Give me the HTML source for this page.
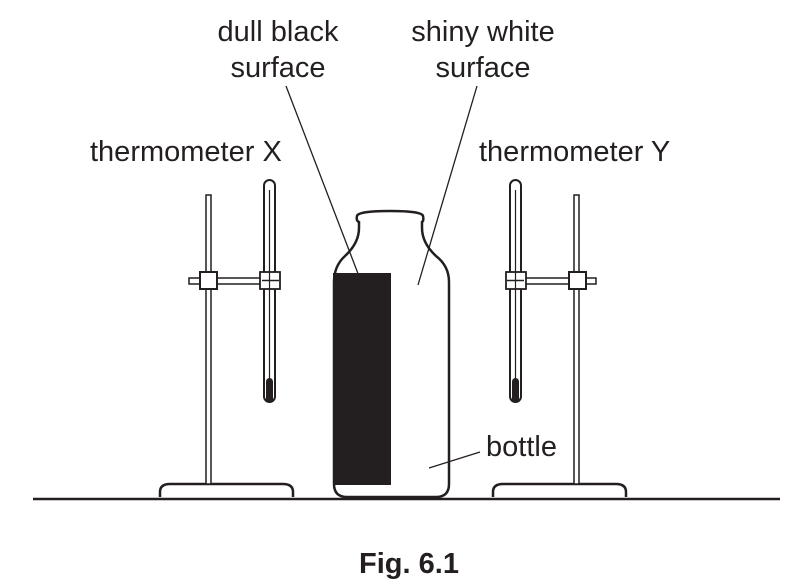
<!DOCTYPE html>
<html><head><style>
html,body{margin:0;padding:0;background:#fff;}
svg{display:block;}
text{font-family:"Liberation Sans",sans-serif;fill:#231f20;}
</style></head><body>
<svg width="812" height="588" viewBox="0 0 812 588" xmlns="http://www.w3.org/2000/svg">
<g font-size="29">
<text x="278" y="41" text-anchor="middle">dull black</text>
<text x="278" y="77" text-anchor="middle">surface</text>
<text x="483" y="41" text-anchor="middle">shiny white</text>
<text x="483" y="77" text-anchor="middle">surface</text>
<text x="90" y="161">thermometer X</text>
<text x="479" y="161">thermometer Y</text>
<text x="486" y="456">bottle</text>
<text x="409" y="573" text-anchor="middle" font-weight="bold">Fig. 6.1</text>
</g>
<g stroke="#231f20" fill="none">
<line x1="33" y1="499" x2="780" y2="499" stroke-width="2.5"/>
<path d="M334 484 L334 282 Q334 266 345 256 Q359 243 359 228 L359 222 Q356 221 357 216 Q358 211 390 211 Q422 211 423 216 Q424 221 422 222 L422 228 Q422 243 436 256 Q449 266 449 282 L449 484 Q449 497 436 497 L347 497 Q334 497 334 484 Z" stroke-width="2.5" fill="#fff"/>
<rect x="333" y="273" width="58" height="212" fill="#231f20" stroke="none"/>
<line x1="286" y1="86" x2="362" y2="284" stroke-width="1.3"/>
<line x1="477" y1="86" x2="418" y2="285" stroke-width="1.3"/>
<line x1="480" y1="452" x2="429" y2="468" stroke-width="1.3"/>
<path d="M160 497 L160 492 Q160 484 170 484 L283 484 Q293 484 293 492 L293 497" stroke-width="2.5" fill="#fff"/>
<rect x="206" y="195" width="5" height="289" stroke-width="1.5" fill="#fff"/>
<rect x="189" y="278" width="80" height="6" stroke-width="1.5" fill="#fff"/>
<rect x="200" y="272" width="17" height="17" stroke-width="2" fill="#fff"/>
<rect x="264" y="180" width="11" height="222" rx="5.5" stroke-width="2" fill="#fff"/>
<line x1="269.5" y1="190" x2="269.5" y2="390" stroke-width="1.2"/>
<rect x="266" y="378" width="7" height="25" rx="3.5" fill="#231f20" stroke="none"/>
<rect x="260" y="272" width="20" height="17" stroke-width="1.8" fill="#fff"/>
<line x1="262" y1="280.5" x2="279" y2="280.5" stroke-width="1.5"/>
<line x1="269.5" y1="272" x2="269.5" y2="289" stroke-width="1.2"/>
<path d="M493 497 L493 492 Q493 484 503 484 L616 484 Q626 484 626 492 L626 497" stroke-width="2.5" fill="#fff"/>
<rect x="574" y="195" width="5" height="289" stroke-width="1.5" fill="#fff"/>
<rect x="520" y="278" width="76" height="6" stroke-width="1.5" fill="#fff"/>
<rect x="569" y="272" width="17" height="17" stroke-width="2" fill="#fff"/>
<rect x="510" y="180" width="11" height="222" rx="5.5" stroke-width="2" fill="#fff"/>
<line x1="515.5" y1="190" x2="515.5" y2="390" stroke-width="1.2"/>
<rect x="512" y="378" width="7" height="25" rx="3.5" fill="#231f20" stroke="none"/>
<rect x="506" y="272" width="20" height="17" stroke-width="1.8" fill="#fff"/>
<line x1="507" y1="280.5" x2="524" y2="280.5" stroke-width="1.5"/>
<line x1="515.5" y1="272" x2="515.5" y2="289" stroke-width="1.2"/>
</g>
</svg>
</body></html>
